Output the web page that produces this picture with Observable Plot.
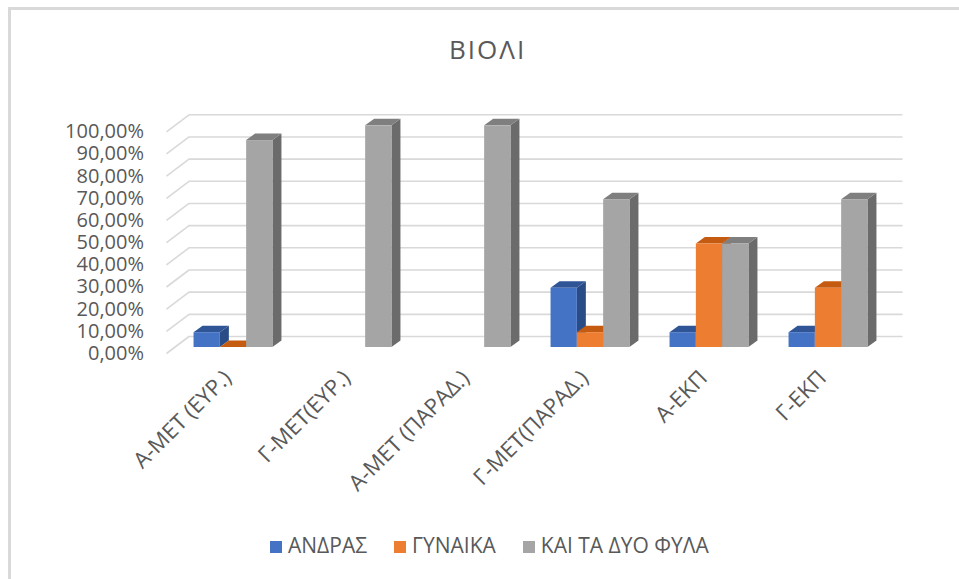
<!DOCTYPE html>
<html>
<head>
<meta charset="utf-8">
<script src="https://cdn.jsdelivr.net/npm/d3@7"></script>
<script src="https://cdn.jsdelivr.net/npm/@observablehq/plot@0.6"></script>
<style>
html, body { margin: 0; padding: 0; background: #fff; overflow: hidden; }
body { font-family: "Open Sans", sans-serif; color: #595959; width: 959px; height: 579px; position: relative; }
#frame { position: absolute; left: 8px; top: 7px; width: 980px; height: 600px; border-left: 3px solid #d9d9d9; border-top: 3px solid #d9d9d9; pointer-events: none; }
#title { position: relative; height: 90px; }
#title span { position: absolute; left: 449px; top: 36px; font-size: 26px; line-height: 26px; letter-spacing: 2px; white-space: nowrap; }
#chart { position: relative; height: 430px; }
#legend { position: relative; height: 59px; }
#legend .items { position: absolute; left: 270px; top: 15px; display: flex; align-items: center; font-size: 21px; line-height: 21px; white-space: nowrap; }
#legend .item { display: flex; align-items: center; margin-right: 27px; }
#legend .sw { width: 12px; height: 12px; margin-right: 6px; margin-top: 2px; }
</style>
</head>
<body>
<div id="frame"></div>
<div id="title"><span>ΒΙΟΛΙ</span></div>
<div id="chart"></div>
<div id="legend"><div class="items"></div></div>
<script>
// ---- data ----
const categories = ["Α-ΜΕΤ (ΕΥΡ.)", "Γ-ΜΕΤ(ΕΥΡ.)", "Α-ΜΕΤ (ΠΑΡΑΔ.)", "Γ-ΜΕΤ(ΠΑΡΑΔ.)", "Α-ΕΚΠ", "Γ-ΕΚΠ"];
const seriesNames = ["ΑΝΔΡΑΣ", "ΓΥΝΑΙΚΑ", "ΚΑΙ ΤΑ ΔΥΟ ΦΥΛΑ"];
const andras  = [0.0667, null, null, 0.2667, 0.0667, 0.0667];
const gynaika = [0.0,    null, null, 0.0667, 0.4667, 0.2667];
const both    = [0.9333, 1.0,  1.0,  0.6667, 0.4667, 0.6667];
const yTicks  = [0, 0.1, 0.2, 0.3, 0.4, 0.5, 0.6, 0.7, 0.8, 0.9, 1.0];

// ---- styles ----
const frontColors = ["#4472C4", "#ED7D31", "#A5A5A5"];
const topColors   = ["#2F5597", "#C55A11", "#7F7F7F"];
const sideColors  = ["#2A4C86", "#AE4F12", "#6B6B6B"];
const gridColor = "#d9d9d9";

// ---- layout ----
const W = 959, H = 430, mL = 173.5, mR = 71.5, mT = 35.3, mB = 173;
const pxX = (W - mL - mR) / categories.length;
const pxY = H - mT - mB;
const barW = 26.3 / pxX, DX = 9 / pxX, DY = 6.5 / pxY;

const seriesValues = [andras, gynaika, both];
const bars = [];
seriesValues.forEach((arr, k) => arr.forEach((v, i) => {
  if (v == null) return;
  const x0 = i + (k - 1.5) * barW;
  bars.push({k, i, v, x0, x1: x0 + barW, id: k + "-" + i});
}));
const tops = bars.flatMap(b => [
  {k: b.k, id: b.id, y: b.v, xa: b.x0, xb: b.x1},
  {k: b.k, id: b.id, y: b.v + DY, xa: b.x0 + DX, xb: b.x1 + DX}
]);
const sides = bars.flatMap(b => [
  {k: b.k, id: b.id, x: b.x1, ya: 0, yb: b.v},
  {k: b.k, id: b.id, x: b.x1 + DX, ya: DY, yb: b.v + DY}
]);

const barMarks = [];
[0, 1, 2].forEach(k => {
  barMarks.push(Plot.areaY(sides.filter(d => d.k === k), {x: "x", y1: "ya", y2: "yb", z: "id", fill: sideColors[k]}));
  barMarks.push(Plot.areaX(tops.filter(d => d.k === k), {y: "y", x1: "xa", x2: "xb", z: "id", fill: topColors[k]}));
  barMarks.push(Plot.rectY(bars.filter(d => d.k === k), {x1: "x0", x2: "x1", y1: 0, y2: "v", fill: frontColors[k]}));
});

const fmt = d => (d * 100).toFixed(2).replace(".", ",") + "%";

const chart = Plot.plot({
  width: W, height: H,
  marginLeft: mL, marginRight: mR, marginTop: mT, marginBottom: mB,
  style: {fontFamily: "Open Sans, sans-serif", color: "#595959", background: "transparent", overflow: "visible"},
  x: {domain: [-0.5, categories.length - 0.5]},
  y: {domain: [0, 1]},
  marks: [
    Plot.ruleY(yTicks, {y: d => d, dx: 15, dy: -11, stroke: gridColor, strokeWidth: 1.6}),
    Plot.link(yTicks, {x1: () => -0.5 - 7.5 / pxX, x2: () => -0.5 + 15 / pxX, y1: d => d - 6 / pxY, y2: d => d + 11 / pxY, stroke: gridColor, strokeWidth: 1.6}),
    ...barMarks,
    Plot.axisY({ticks: yTicks, tickSize: 0, tickPadding: 30, tickFormat: fmt, fontSize: 20, dy: 6, label: null}),
    Plot.axisX({ticks: d3.range(categories.length), tickFormat: i => categories[i], tickRotate: -45, tickSize: 0, tickPadding: 27, fontSize: 22, dx: -6, label: null})
  ]
});
document.getElementById("chart").appendChild(chart);

// ---- legend ----
const items = document.querySelector("#legend .items");
seriesNames.forEach((name, k) => {
  const it = document.createElement("div");
  it.className = "item";
  const sw = document.createElement("span");
  sw.className = "sw";
  sw.style.background = frontColors[k];
  const tx = document.createElement("span");
  tx.textContent = name;
  it.appendChild(sw); it.appendChild(tx);
  items.appendChild(it);
});
</script>
</body>
</html>
